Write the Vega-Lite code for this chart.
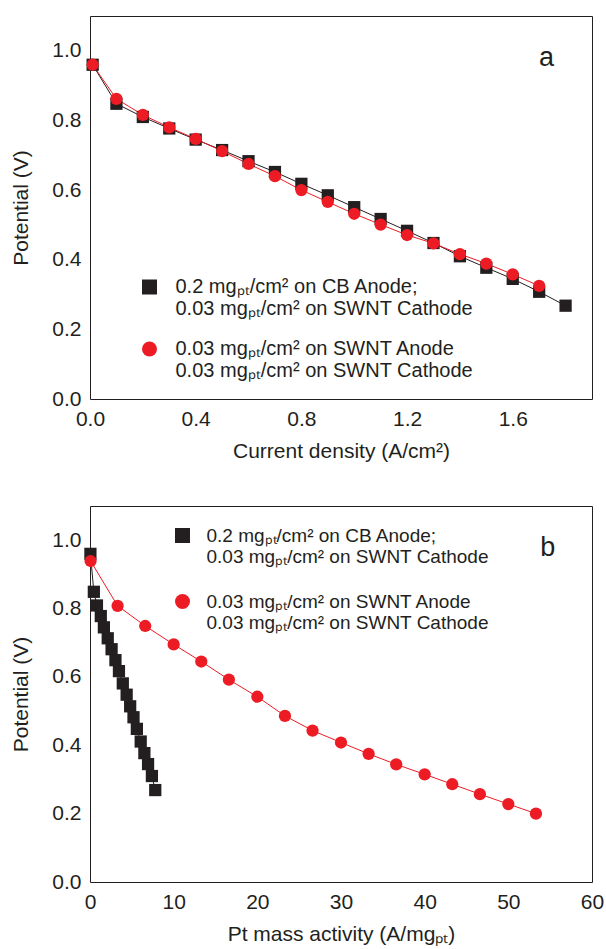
{
  "$schema": "https://vega.github.io/schema/vega-lite/v6.json",
  "padding": {"left": 10, "top": 15, "right": 5, "bottom": 2},
  "spacing": 43,
  "resolve": {"scale": {"color": "independent", "shape": "independent"}, "legend": {"color": "independent", "shape": "independent"}},
  "config": {
    "font": "Liberation Sans",
    "view": {"stroke": "#231f20", "strokeWidth": 1},
    "axis": {
      "grid": false, "domain": false, "tickSize": 0, "labelPadding": 9,
      "labelFlush": false, "labelOverlap": false,
      "labelFont": "Liberation Sans", "labelFontSize": 21, "labelColor": "#231f20",
      "titleFont": "Liberation Sans", "titleFontSize": 21, "titleFontWeight": "normal", "titleColor": "#231f20",
      "tickColor": "#231f20", "tickWidth": 1
    }
  },
  "datasets": {
    "pol": [
      {"s": "cb", "j": 0.01, "v": 0.96}, {"s": "cb", "j": 0.1, "v": 0.848}, {"s": "cb", "j": 0.2, "v": 0.81},
      {"s": "cb", "j": 0.3, "v": 0.777}, {"s": "cb", "j": 0.4, "v": 0.745}, {"s": "cb", "j": 0.5, "v": 0.715},
      {"s": "cb", "j": 0.6, "v": 0.683}, {"s": "cb", "j": 0.7, "v": 0.652}, {"s": "cb", "j": 0.8, "v": 0.618},
      {"s": "cb", "j": 0.9, "v": 0.585}, {"s": "cb", "j": 1.0, "v": 0.551}, {"s": "cb", "j": 1.1, "v": 0.517},
      {"s": "cb", "j": 1.2, "v": 0.483}, {"s": "cb", "j": 1.3, "v": 0.448}, {"s": "cb", "j": 1.4, "v": 0.41},
      {"s": "cb", "j": 1.5, "v": 0.377}, {"s": "cb", "j": 1.6, "v": 0.345}, {"s": "cb", "j": 1.7, "v": 0.308},
      {"s": "cb", "j": 1.8, "v": 0.268},
      {"s": "swnt", "j": 0.01, "v": 0.96}, {"s": "swnt", "j": 0.1, "v": 0.862}, {"s": "swnt", "j": 0.2, "v": 0.816},
      {"s": "swnt", "j": 0.3, "v": 0.78}, {"s": "swnt", "j": 0.4, "v": 0.747}, {"s": "swnt", "j": 0.5, "v": 0.712},
      {"s": "swnt", "j": 0.6, "v": 0.675}, {"s": "swnt", "j": 0.7, "v": 0.64}, {"s": "swnt", "j": 0.8, "v": 0.6},
      {"s": "swnt", "j": 0.9, "v": 0.566}, {"s": "swnt", "j": 1.0, "v": 0.532}, {"s": "swnt", "j": 1.1, "v": 0.501},
      {"s": "swnt", "j": 1.2, "v": 0.471}, {"s": "swnt", "j": 1.3, "v": 0.447}, {"s": "swnt", "j": 1.4, "v": 0.416},
      {"s": "swnt", "j": 1.5, "v": 0.389}, {"s": "swnt", "j": 1.6, "v": 0.358}, {"s": "swnt", "j": 1.7, "v": 0.325}
    ],
    "mass": [
      {"s": "cb", "m": 0.05, "v": 0.96}, {"s": "cb", "m": 0.46, "v": 0.849}, {"s": "cb", "m": 0.83, "v": 0.809},
      {"s": "cb", "m": 1.29, "v": 0.778}, {"s": "cb", "m": 1.66, "v": 0.745}, {"s": "cb", "m": 2.12, "v": 0.713},
      {"s": "cb", "m": 2.58, "v": 0.681}, {"s": "cb", "m": 3.04, "v": 0.649}, {"s": "cb", "m": 3.46, "v": 0.617},
      {"s": "cb", "m": 3.92, "v": 0.581}, {"s": "cb", "m": 4.38, "v": 0.548}, {"s": "cb", "m": 4.8, "v": 0.514},
      {"s": "cb", "m": 5.2, "v": 0.482}, {"s": "cb", "m": 5.6, "v": 0.448}, {"s": "cb", "m": 6.06, "v": 0.411},
      {"s": "cb", "m": 6.5, "v": 0.377}, {"s": "cb", "m": 6.94, "v": 0.345}, {"s": "cb", "m": 7.4, "v": 0.31},
      {"s": "cb", "m": 7.8, "v": 0.269},
      {"s": "swnt", "m": 0.07, "v": 0.939}, {"s": "swnt", "m": 3.3, "v": 0.808}, {"s": "swnt", "m": 6.6, "v": 0.749},
      {"s": "swnt", "m": 10.0, "v": 0.695}, {"s": "swnt", "m": 13.3, "v": 0.645}, {"s": "swnt", "m": 16.6, "v": 0.592},
      {"s": "swnt", "m": 20.0, "v": 0.542}, {"s": "swnt", "m": 23.3, "v": 0.486}, {"s": "swnt", "m": 26.6, "v": 0.443},
      {"s": "swnt", "m": 30.0, "v": 0.408}, {"s": "swnt", "m": 33.3, "v": 0.375}, {"s": "swnt", "m": 36.6, "v": 0.344},
      {"s": "swnt", "m": 40.0, "v": 0.315}, {"s": "swnt", "m": 43.3, "v": 0.286}, {"s": "swnt", "m": 46.6, "v": 0.257},
      {"s": "swnt", "m": 50.0, "v": 0.228}, {"s": "swnt", "m": 53.3, "v": 0.2}
    ]
  },
  "vconcat": [
    {
      "width": 502, "height": 383,
      "data": {"name": "pol"},
      "layer": [
        {
          "transform": [{"filter": "datum.s === 'cb'"}],
          "mark": {"type": "line", "strokeWidth": 1, "color": "#231f20"},
          "encoding": {
            "x": {"field": "j", "type": "quantitative", "scale": {"domain": [0, 1.9], "nice": false, "zero": false},
              "axis": {"orient": "bottom", "values": [0, 0.2, 0.4, 0.6, 0.8, 1.0, 1.2, 1.4, 1.6, 1.8],
                "labelExpr": "abs(datum.value/0.4 - round(datum.value/0.4)) < 0.01 ? format(datum.value, '.1f') : ''",
                "title": "Current density (A/cm²)", "titlePadding": 11,
                "encode": {"ticks": {"update": {"y2": {"signal": "abs(datum.value/0.4 - round(datum.value/0.4)) < 0.01 ? -7 : -4"}}}}}},
            "y": {"field": "v", "type": "quantitative", "scale": {"domain": [0, 1.1], "nice": false, "zero": false},
              "axis": {"orient": "left", "values": [0, 0.1, 0.2, 0.3, 0.4, 0.5, 0.6, 0.7, 0.8, 0.9, 1.0],
                "labelExpr": "abs(datum.value/0.2 - round(datum.value/0.2)) < 0.01 ? format(datum.value, '.1f') : ''",
                "title": "Potential (V)", "titlePadding": 20,
                "encode": {"ticks": {"update": {"x2": {"signal": "abs(datum.value/0.2 - round(datum.value/0.2)) < 0.01 ? 7 : 4"}}}}}}
          }
        },
        {
          "transform": [{"filter": "datum.s === 'swnt'"}],
          "mark": {"type": "line", "strokeWidth": 1, "color": "#ed1c24"},
          "encoding": {
            "x": {"field": "j", "type": "quantitative", "axis": null},
            "y": {"field": "v", "type": "quantitative", "axis": null}
          }
        },
        {
          "mark": {"type": "point", "filled": true, "opacity": 1, "size": 150, "strokeWidth": 0},
          "encoding": {
            "x": {"field": "j", "type": "quantitative", "axis": null},
            "y": {"field": "v", "type": "quantitative", "axis": null},
            "shape": {"field": "s", "type": "nominal", "scale": {"domain": ["cb", "swnt"], "range": ["square", "circle"]},
              "legend": {
                "title": null, "orient": "none", "legendX": 49.5, "legendY": 261, "padding": 0,
                "symbolSize": 225, "labelFont": "Liberation Sans", "labelColor": "#231f20", "labelFontSize": 20, "labelOffset": 16, "rowPadding": 20, "labelLimit": 500,
                "labelExpr": "datum.value === 'cb' ? ['0.2 mgₚₜ/cm² on CB Anode;', '0.03 mgₚₜ/cm² on SWNT Cathode'] : ['0.03 mgₚₜ/cm² on SWNT Anode', '0.03 mgₚₜ/cm² on SWNT Cathode']",
                "encode": {
                  "symbols": {"update": {
                    "shape": {"signal": "datum.value === 'cb' ? 'M-3,0H-1M1,0H3M-1,-1H1V1H-1Z' : 'M-3,0H-1.27M1.27,0H3M-1.27,0A1.27,1.27 0 1,0 1.27,0A1.27,1.27 0 1,0 -1.27,0Z'"},
                    "fill": {"signal": "datum.value === 'cb' ? '#231f20' : '#ed1c24'"},
                    "stroke": {"signal": "datum.value === 'cb' ? '#231f20' : '#ed1c24'"},
                    "strokeWidth": {"value": 1}, "opacity": {"value": 1}
                  }},
                  "labels": {"update": {"lineHeight": {"value": 31}}}
                }
              }
            },
            "color": {"field": "s", "type": "nominal", "scale": {"domain": ["cb", "swnt"], "range": ["#231f20", "#ed1c24"]},
              "legend": {
                "title": null, "orient": "none", "legendX": 49.5, "legendY": 261, "padding": 0,
                "symbolSize": 225, "labelFont": "Liberation Sans", "labelColor": "#231f20", "labelFontSize": 20, "labelOffset": 16, "rowPadding": 20, "labelLimit": 500,
                "labelExpr": "datum.value === 'cb' ? ['0.2 mgₚₜ/cm² on CB Anode;', '0.03 mgₚₜ/cm² on SWNT Cathode'] : ['0.03 mgₚₜ/cm² on SWNT Anode', '0.03 mgₚₜ/cm² on SWNT Cathode']",
                "encode": {
                  "symbols": {"update": {
                    "shape": {"signal": "datum.value === 'cb' ? 'M-3,0H-1M1,0H3M-1,-1H1V1H-1Z' : 'M-3,0H-1.27M1.27,0H3M-1.27,0A1.27,1.27 0 1,0 1.27,0A1.27,1.27 0 1,0 -1.27,0Z'"},
                    "fill": {"signal": "datum.value === 'cb' ? '#231f20' : '#ed1c24'"},
                    "stroke": {"signal": "datum.value === 'cb' ? '#231f20' : '#ed1c24'"},
                    "strokeWidth": {"value": 1}, "opacity": {"value": 1}
                  }},
                  "labels": {"update": {"lineHeight": {"value": 31}}}
                }
              }
            }
          }
        },
        {
          "mark": {"type": "point", "opacity": 0},
          "encoding": {
            "x": {"field": "j", "type": "quantitative", "scale": {"domain": [0, 1.9], "nice": false, "zero": false},
              "axis": {"orient": "top", "values": [0, 0.2, 0.4, 0.6, 0.8, 1.0, 1.2, 1.4, 1.6, 1.8], "labels": false, "title": null,
                "encode": {"ticks": {"update": {"y2": {"signal": "abs(datum.value/0.4 - round(datum.value/0.4)) < 0.01 ? 7 : 4"}}}}}},
            "y": {"field": "v", "type": "quantitative", "scale": {"domain": [0, 1.1], "nice": false, "zero": false},
              "axis": {"orient": "right", "values": [0, 0.1, 0.2, 0.3, 0.4, 0.5, 0.6, 0.7, 0.8, 0.9, 1.0], "labels": false, "title": null,
                "encode": {"ticks": {"update": {"x2": {"signal": "abs(datum.value/0.2 - round(datum.value/0.2)) < 0.01 ? -7 : -4"}}}}}}
          }
        },
        {
          "data": {"values": [{"label": "a"}]},
          "mark": {"type": "text", "fontSize": 27, "font": "Liberation Sans", "color": "#231f20"},
          "encoding": {
            "x": {"datum": 1.728, "type": "quantitative", "axis": null},
            "y": {"datum": 0.98, "type": "quantitative", "axis": null},
            "text": {"field": "label"}
          }
        }
      ],
      "resolve": {"axis": {"x": "independent", "y": "independent"}}
    },
    {
      "width": 502, "height": 376,
      "data": {"name": "mass"},
      "layer": [
        {
          "transform": [{"filter": "datum.s === 'cb'"}],
          "mark": {"type": "line", "strokeWidth": 1, "color": "#231f20"},
          "encoding": {
            "x": {"field": "m", "type": "quantitative", "scale": {"domain": [0, 60], "nice": false, "zero": false},
              "axis": {"orient": "bottom", "values": [0, 5, 10, 15, 20, 25, 30, 35, 40, 45, 50, 55, 60],
                "labelExpr": "datum.value % 10 === 0 ? format(datum.value, 'd') : ''",
                "title": "Pt mass activity (A/mgₚₜ)", "titlePadding": 11,
                "encode": {"ticks": {"update": {"y2": {"signal": "datum.value % 10 === 0 ? -7 : -4"}}}}}},
            "y": {"field": "v", "type": "quantitative", "scale": {"domain": [0, 1.1], "nice": false, "zero": false},
              "axis": {"orient": "left", "values": [0, 0.1, 0.2, 0.3, 0.4, 0.5, 0.6, 0.7, 0.8, 0.9, 1.0],
                "labelExpr": "abs(datum.value/0.2 - round(datum.value/0.2)) < 0.01 ? format(datum.value, '.1f') : ''",
                "title": "Potential (V)", "titlePadding": 20,
                "encode": {"ticks": {"update": {"x2": {"signal": "abs(datum.value/0.2 - round(datum.value/0.2)) < 0.01 ? 7 : 4"}}}}}}
          }
        },
        {
          "transform": [{"filter": "datum.s === 'swnt'"}],
          "mark": {"type": "line", "strokeWidth": 1, "color": "#ed1c24"},
          "encoding": {
            "x": {"field": "m", "type": "quantitative", "axis": null},
            "y": {"field": "v", "type": "quantitative", "axis": null}
          }
        },
        {
          "mark": {"type": "point", "filled": true, "opacity": 1, "size": 150, "strokeWidth": 0},
          "encoding": {
            "x": {"field": "m", "type": "quantitative", "axis": null},
            "y": {"field": "v", "type": "quantitative", "axis": null},
            "shape": {"field": "s", "type": "nominal", "scale": {"domain": ["cb", "swnt"], "range": ["square", "circle"]},
              "legend": {
                "title": null, "orient": "none", "legendX": 83, "legendY": 20, "padding": 0,
                "symbolSize": 225, "labelFont": "Liberation Sans", "labelColor": "#231f20", "labelFontSize": 19, "labelOffset": 14.5, "rowPadding": 25, "labelLimit": 500,
                "labelExpr": "datum.value === 'cb' ? ['0.2 mgₚₜ/cm² on CB Anode;', '0.03 mgₚₜ/cm² on SWNT Cathode'] : ['0.03 mgₚₜ/cm² on SWNT Anode', '0.03 mgₚₜ/cm² on SWNT Cathode']",
                "encode": {
                  "symbols": {"update": {
                    "shape": {"signal": "datum.value === 'cb' ? 'M-3,0H-1M1,0H3M-1,-1H1V1H-1Z' : 'M-3,0H-1.15M1.15,0H3M-1.15,0A1.15,1.15 0 1,0 1.15,0A1.15,1.15 0 1,0 -1.15,0Z'"},
                    "fill": {"signal": "datum.value === 'cb' ? '#231f20' : '#ed1c24'"},
                    "stroke": {"signal": "datum.value === 'cb' ? '#231f20' : '#ed1c24'"},
                    "strokeWidth": {"value": 1}, "opacity": {"value": 1}
                  }},
                  "labels": {"update": {"lineHeight": {"value": 29}}}
                }
              }
            },
            "color": {"field": "s", "type": "nominal", "scale": {"domain": ["cb", "swnt"], "range": ["#231f20", "#ed1c24"]},
              "legend": {
                "title": null, "orient": "none", "legendX": 83, "legendY": 20, "padding": 0,
                "symbolSize": 225, "labelFont": "Liberation Sans", "labelColor": "#231f20", "labelFontSize": 19, "labelOffset": 14.5, "rowPadding": 25, "labelLimit": 500,
                "labelExpr": "datum.value === 'cb' ? ['0.2 mgₚₜ/cm² on CB Anode;', '0.03 mgₚₜ/cm² on SWNT Cathode'] : ['0.03 mgₚₜ/cm² on SWNT Anode', '0.03 mgₚₜ/cm² on SWNT Cathode']",
                "encode": {
                  "symbols": {"update": {
                    "shape": {"signal": "datum.value === 'cb' ? 'M-3,0H-1M1,0H3M-1,-1H1V1H-1Z' : 'M-3,0H-1.15M1.15,0H3M-1.15,0A1.15,1.15 0 1,0 1.15,0A1.15,1.15 0 1,0 -1.15,0Z'"},
                    "fill": {"signal": "datum.value === 'cb' ? '#231f20' : '#ed1c24'"},
                    "stroke": {"signal": "datum.value === 'cb' ? '#231f20' : '#ed1c24'"},
                    "strokeWidth": {"value": 1}, "opacity": {"value": 1}
                  }},
                  "labels": {"update": {"lineHeight": {"value": 29}}}
                }
              }
            }
          }
        },
        {
          "mark": {"type": "point", "opacity": 0},
          "encoding": {
            "x": {"field": "m", "type": "quantitative", "scale": {"domain": [0, 60], "nice": false, "zero": false},
              "axis": {"orient": "top", "values": [0, 5, 10, 15, 20, 25, 30, 35, 40, 45, 50, 55, 60], "labels": false, "title": null,
                "encode": {"ticks": {"update": {"y2": {"signal": "datum.value % 10 === 0 ? 7 : 4"}}}}}},
            "y": {"field": "v", "type": "quantitative", "scale": {"domain": [0, 1.1], "nice": false, "zero": false},
              "axis": {"orient": "right", "values": [0, 0.1, 0.2, 0.3, 0.4, 0.5, 0.6, 0.7, 0.8, 0.9, 1.0], "labels": false, "title": null,
                "encode": {"ticks": {"update": {"x2": {"signal": "abs(datum.value/0.2 - round(datum.value/0.2)) < 0.01 ? -7 : -4"}}}}}}
          }
        },
        {
          "data": {"values": [{"label": "b"}]},
          "mark": {"type": "text", "fontSize": 27, "font": "Liberation Sans", "color": "#231f20"},
          "encoding": {
            "x": {"datum": 54.7, "type": "quantitative", "axis": null},
            "y": {"datum": 0.977, "type": "quantitative", "axis": null},
            "text": {"field": "label"}
          }
        }
      ],
      "resolve": {"axis": {"x": "independent", "y": "independent"}}
    }
  ]
}
